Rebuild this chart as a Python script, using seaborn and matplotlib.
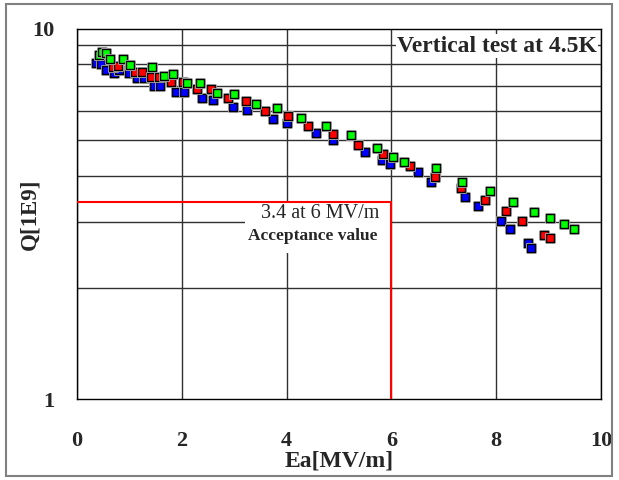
import pandas as pd
import matplotlib
matplotlib.use("Agg")
import matplotlib.pyplot as plt
import matplotlib.patheffects as pe
from matplotlib.patches import Rectangle
from matplotlib.ticker import FixedLocator, NullFormatter
import seaborn as sns

# --- data (Ea in MV/m, Q in 1E9) ---
green_ea = [0.42, 0.48, 0.55, 0.63, 0.88, 1.01, 1.43, 1.66, 1.83, 2.10, 2.35, 2.67, 3.00,
            3.42, 3.82, 4.27, 4.75, 5.23, 5.73, 6.03, 6.24, 6.85, 7.35, 7.88, 8.32, 8.72,
            9.03, 9.29, 9.48]
green_q = [8.48, 8.64, 8.59, 8.27, 8.27, 7.97, 7.87, 7.45, 7.54, 7.13, 7.13, 6.70, 6.66,
           6.26, 6.10, 5.74, 5.46, 5.16, 4.76, 4.50, 4.36, 4.21, 3.85, 3.65, 3.40, 3.20,
           3.08, 2.97, 2.88]

red_ea = [0.69, 0.78, 1.11, 1.24, 1.41, 1.56, 1.79, 2.02, 2.29, 2.56, 2.88, 3.23, 3.59,
          4.03, 4.41, 4.89, 5.36, 5.84, 6.35, 6.83, 7.33, 7.79, 8.19, 8.49, 8.91, 9.03]
red_q = [7.87, 7.92, 7.63, 7.63, 7.40, 7.40, 7.17, 7.17, 6.87, 6.87, 6.49, 6.38, 5.99,
         5.81, 5.46, 5.19, 4.85, 4.59, 4.26, 3.98, 3.71, 3.45, 3.22, 3.03, 2.77, 2.72]

blue_ea = [0.36, 0.46, 0.55, 0.71, 0.80, 0.99, 1.15, 1.28, 1.47, 1.58, 1.89, 2.04, 2.39,
           2.60, 2.98, 3.24, 3.74, 4.01, 4.56, 4.89, 5.50, 5.82, 5.97, 6.51, 6.76, 7.40,
           7.65, 8.09, 8.26, 8.61, 8.66]
blue_q = [8.07, 8.02, 7.73, 7.59, 7.73, 7.59, 7.36, 7.36, 7.00, 7.00, 6.74, 6.74, 6.49,
          6.41, 6.14, 6.03, 5.70, 5.56, 5.23, 5.00, 4.64, 4.42, 4.31, 4.10, 3.85, 3.51,
          3.32, 3.03, 2.88, 2.64, 2.56]

accept_ea = 6
accept_q = 3.4
x_ticks = [0, 2, 4, 6, 8, 10]
y_ticks = [1, 10]
y_minor = [2, 3, 4, 5, 6, 7, 8, 9]

df = pd.concat([
    pd.DataFrame({"Ea": blue_ea, "Q": blue_q, "run": "blue"}),
    pd.DataFrame({"Ea": red_ea, "Q": red_q, "run": "red"}),
    pd.DataFrame({"Ea": green_ea, "Q": green_q, "run": "green"}),
])
palette = {"blue": "#0000ff", "red": "#ff0000", "green": "#00ff00"}

sns.set_style("white")
plt.rcParams["font.family"] = ["Liberation Serif", "DejaVu Serif"]

fig = plt.figure(figsize=(6.19, 4.80), dpi=100)
ax = fig.add_axes([0.1244, 0.1681, 0.8465, 0.7725])

ax.set_yscale("log")
ax.set_xlim(0, 10)
ax.set_ylim(1, 10)

sns.scatterplot(data=df, x="Ea", y="Q", hue="run", palette=palette, marker="s",
                s=34, edgecolor="black", linewidth=1.0, legend=False, ax=ax, zorder=5,
                path_effects=[pe.withStroke(linewidth=2.2, foreground="#b4b4b4")])

# grid
ax.xaxis.set_major_locator(FixedLocator(x_ticks))
ax.yaxis.set_major_locator(FixedLocator(y_ticks))
ax.yaxis.set_minor_locator(FixedLocator(y_minor))
ax.yaxis.set_minor_formatter(NullFormatter())
ax.set_yticklabels([str(t) for t in y_ticks])
ax.grid(True, axis="x", which="major", color="#303030", lw=1.0)
ax.grid(True, axis="y", which="minor", color="#303030", lw=1.0)
ax.set_axisbelow(True)

for sp in ax.spines.values():
    sp.set_color("black")
    sp.set_linewidth(1.0)

ax.tick_params(axis="x", which="major", direction="inout", length=8, width=1,
               color="black", pad=19, labelsize=16)
ax.tick_params(axis="y", which="major", direction="out", length=8, width=1,
               color="black", pad=8, labelsize=16)
ax.tick_params(axis="y", which="minor", length=0)
for lab in ax.get_xticklabels() + ax.get_yticklabels():
    lab.set_fontweight("bold")

ax.set_xlabel("Ea[MV/m]", fontsize=17, fontweight="bold")
ax.set_ylabel("Q[1E9]", fontsize=16.5, fontweight="bold")
ax.xaxis.set_label_coords(0.5, -0.138)
ax.yaxis.set_label_coords(-0.07, 0.5)

# acceptance box and lines
ax.add_patch(Rectangle((3.21, 2.48), accept_ea - 3.21, accept_q - 2.48,
                       facecolor="white", edgecolor="none", zorder=3))
ax.plot([0, accept_ea], [accept_q, accept_q], color="red", lw=1.5, zorder=4)
ax.plot([accept_ea, accept_ea], [1, accept_q], color="red", lw=1.5, zorder=4)
ax.text(0.4637, 0.5024, "3.4 at 6 MV/m", transform=ax.transAxes, ha="center",
        va="center", fontsize=14.5, zorder=6)
ax.text(0.4493, 0.4404, "Acceptance value", transform=ax.transAxes, ha="center",
        va="center", fontsize=12.5, fontweight="bold", zorder=6)

ax.text(0.992, 0.952, "Vertical test at 4.5K", transform=ax.transAxes, ha="right",
        va="center", fontsize=17, fontweight="bold", zorder=6,
        bbox=dict(facecolor="white", edgecolor="none", pad=1))

fig.patches.append(Rectangle((6 / 619, 4 / 480), 606 / 619, 472 / 480,
                             transform=fig.transFigure, fill=False,
                             edgecolor="#808080", lw=1.5))

fig.savefig("out.png", dpi=100)
